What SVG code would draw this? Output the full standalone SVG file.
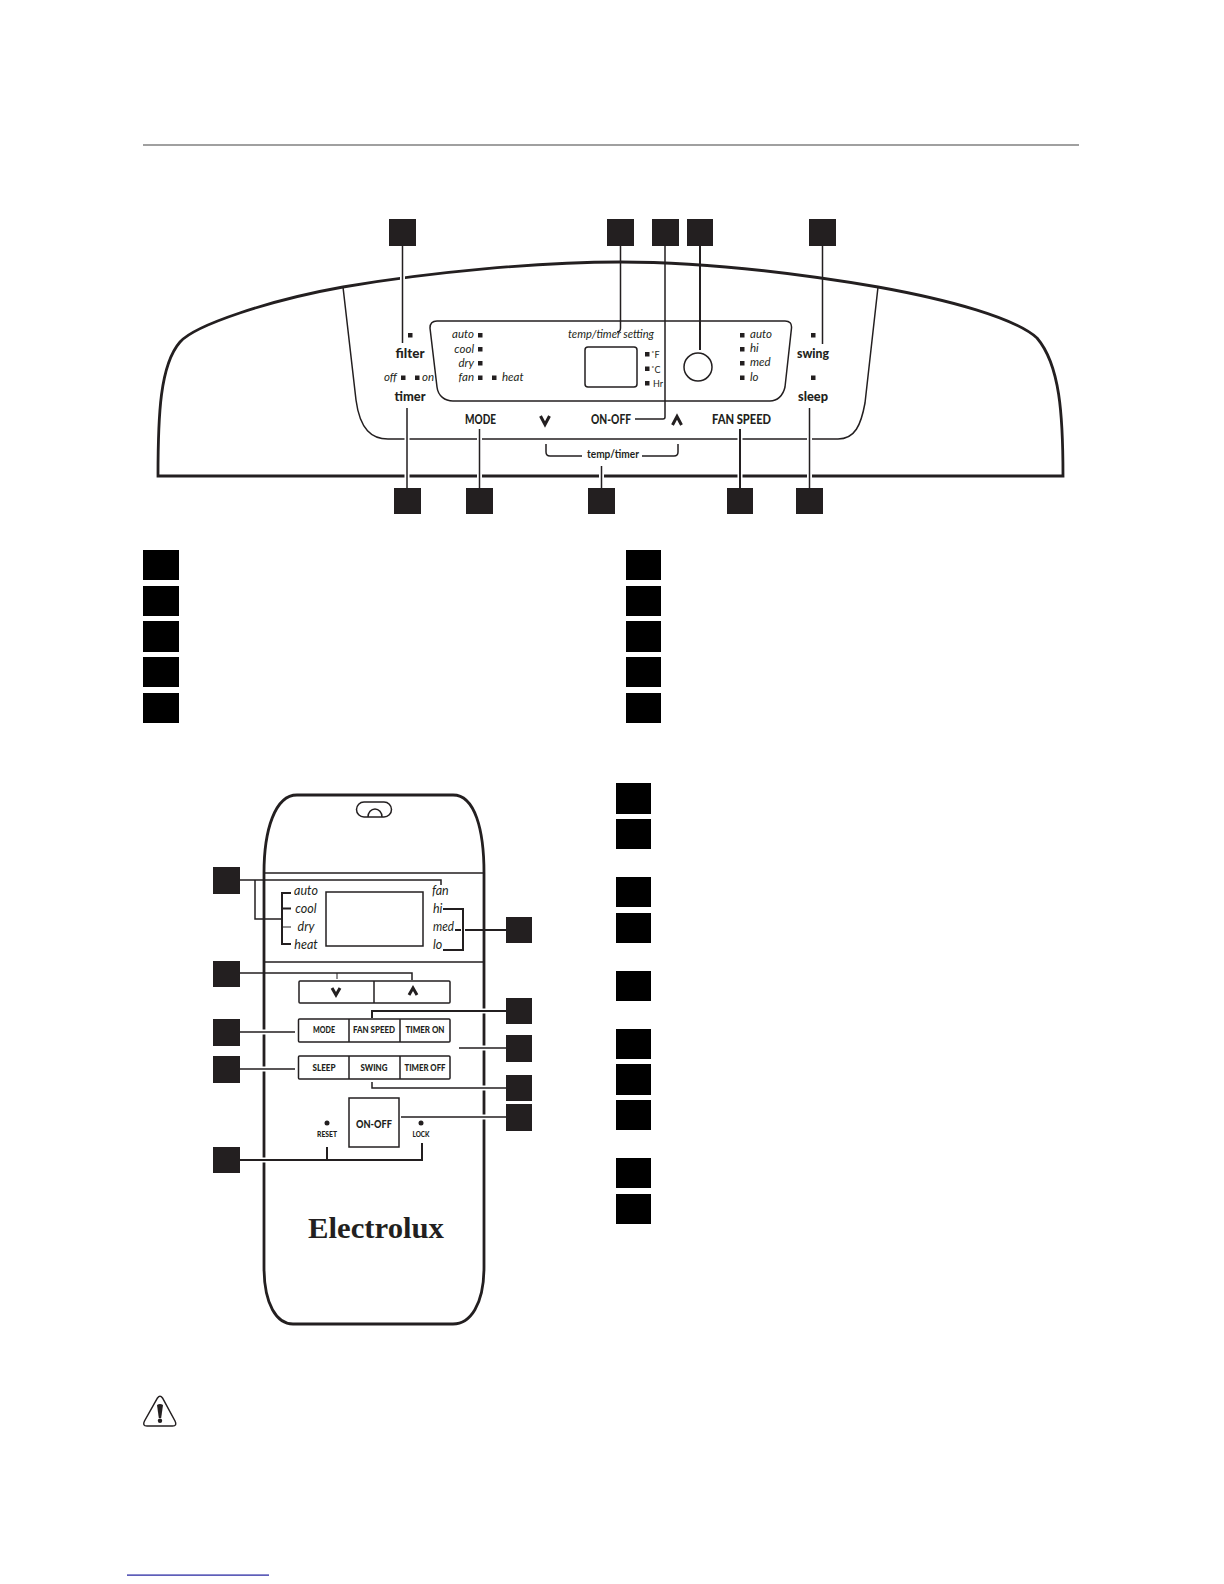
<svg xmlns="http://www.w3.org/2000/svg" width="1224" height="1584" viewBox="0 0 1224 1584">
<style>
.ln{fill:none;stroke:#231f20;stroke-width:1.5}
.th{fill:none;stroke:#231f20;stroke-width:2}
.tk{fill:none;stroke:#231f20;stroke-width:2.8}
.thin{fill:none;stroke:#231f20;stroke-width:1}
.ha{fill:none;stroke:#fff;stroke-width:5}
.sq{fill:#231f20}
.bk{fill:#000}
.led{fill:#231f20}
text{font-family:Lato,"Open Sans","Liberation Sans",sans-serif;fill:#231f20}
.i{font-style:italic;font-size:12.5px}
.p{font-size:11.5px}
.b{font-weight:900;font-size:13px}
.s{font-weight:900;font-size:9.5px}
.m{text-anchor:middle}
.e{text-anchor:end}
.chev{fill:none;stroke:#231f20;stroke-width:3;stroke-linejoin:miter}
</style>
<rect width="1224" height="1584" fill="#fff"/>
<rect id="top-rule" x="143" y="144" width="936" height="2" fill="#a0a0a0"/>

<g id="panel">
<path class="tk" d="M158 476H1063C1063 415 1060 365 1037 338C1015 318 950 300 878 287C790 272 700 262 620 262C540 262 430 272 343 287C270 300 195 325 180 342C160 365 158 415 158 476Z"/>
<path class="ln" d="M343 287L356 400C360 430 372 439 388 439H838C855 439 861 425 865 403L878 287"/>
<path class="ln" d="M437 321H785Q792 321 791.500 328L785 387C783 396 777 401 770 401H453C445 401 438 396 437 387L430 328Q430 321 437 321Z"/>
<rect class="ln" x="585" y="347" width="52" height="40" rx="3" stroke="#555"/>
<circle class="ln" cx="698" cy="367" r="14"/>
<path class="ln" d="M546 444V452Q546 456 550 456H582M642 456H674Q678 456 678 452V444"/>
<path class="chev" d="M540.500 416L545 424.500L549.500 416"/>
<path class="chev" d="M672.500 425L677 416.500L681.500 425"/>
</g>

<g id="panel-labels">
<g class="led">
<rect x="408" y="333" width="4.500" height="4.500"/><rect x="478" y="333" width="4.500" height="4.500"/><rect x="478" y="347" width="4.500" height="4.500"/><rect x="478" y="361" width="4.500" height="4.500"/><rect x="478" y="375.500" width="4.500" height="4.500"/><rect x="492" y="375.500" width="4.500" height="4.500"/>
<rect x="401" y="375.500" width="4.500" height="4.500"/><rect x="415" y="375.500" width="4.500" height="4.500"/>
<rect x="645" y="352" width="4.500" height="4.500"/><rect x="645" y="366.500" width="4.500" height="4.500"/><rect x="645" y="381" width="4.500" height="4.500"/>
<rect x="740" y="333" width="4.500" height="4.500"/><rect x="740" y="347" width="4.500" height="4.500"/><rect x="740" y="361" width="4.500" height="4.500"/><rect x="740" y="375.500" width="4.500" height="4.500"/>
<rect x="811" y="333" width="4.500" height="4.500"/><rect x="811" y="375.500" width="4.500" height="4.500"/>
</g>
<text class="b m" x="410" y="358" textLength="29" lengthAdjust="spacingAndGlyphs">filter</text>
<text class="b m" x="410" y="401" textLength="31" lengthAdjust="spacingAndGlyphs">timer</text>
<text class="b m" x="813" y="358" textLength="32" lengthAdjust="spacingAndGlyphs">swing</text>
<text class="b m" x="813" y="401" textLength="30" lengthAdjust="spacingAndGlyphs">sleep</text>
<text class="b" x="465" y="424" textLength="31" lengthAdjust="spacingAndGlyphs">MODE</text>
<text class="b" x="591" y="424" textLength="40" lengthAdjust="spacingAndGlyphs">ON-OFF</text>
<text class="b" x="712" y="424" textLength="59" lengthAdjust="spacingAndGlyphs">FAN SPEED</text>
<text class="s" x="587" y="458" style="font-size:10.500px;font-weight:700" textLength="52" lengthAdjust="spacingAndGlyphs">temp/timer</text>
<text class="i p e" x="474" y="338">auto</text>
<text class="i p e" x="474" y="353">cool</text>
<text class="i p e" x="474" y="367">dry</text>
<text class="i p e" x="474" y="381">fan</text>
<text class="i p" x="502" y="381">heat</text>
<text class="i p" x="384" y="381">off</text>
<text class="i p" x="422" y="381">on</text>
<text class="i p" x="568" y="338" textLength="86" lengthAdjust="spacingAndGlyphs">temp/timer setting</text>
<text class="i p" x="750" y="338">auto</text>
<text class="i p" x="750" y="352">hi</text>
<text class="i p" x="750" y="366">med</text>
<text class="i p" x="750" y="381">lo</text>
<text x="651" y="358" font-size="9px">˚F</text>
<text x="651" y="373" font-size="9px">˚C</text>
<text x="653" y="387" font-size="9px">Hr</text>
</g>

<g id="remote">
<path class="tk" d="M297 795H453C475 795 484 830 484 873V1267C484 1305 470 1324 453 1324H293C277 1324 264 1305 264 1267V873C264 830 275 795 297 795Z"/>
<path class="ln" d="M364 802H384A7.500 7.500 0 0 1 384 817H364A7.500 7.500 0 0 1 364 802Z"/>
<path class="ln" d="M368 817A7 8 0 0 1 382 817"/>
<path class="ln" d="M264 873H484M264 962H484"/>
<rect class="ln" x="326" y="892" width="97" height="54" stroke="#555"/>
<rect class="ln" x="299" y="981" width="151" height="22" rx="1"/><path class="ln" d="M374 981V1003"/>
<rect class="ln" x="298.500" y="1019" width="151.500" height="23" rx="1"/><path class="ln" d="M349 1019V1042M400 1019V1042"/>
<rect class="ln" x="298.500" y="1056" width="151.500" height="23" rx="1"/><path class="ln" d="M349 1056V1079M400 1056V1079"/>
<rect class="ln" x="349" y="1098" width="50" height="49"/>
<path class="chev" d="M332 988L336 995L340 988"/>
<path class="chev" d="M409 995L413 988L417 995"/>
<circle class="led" cx="327" cy="1123" r="2.500"/><circle class="led" cx="421" cy="1123" r="2.500"/>
</g>

<g id="remote-labels">
<text class="i m" x="306" y="895">auto</text>
<text class="i m" x="306" y="913">cool</text>
<text class="i m" x="306" y="931">dry</text>
<text class="i m" x="306" y="949">heat</text>
<text class="i" x="432" y="895">fan</text>
<text class="i" x="433" y="913">hi</text>
<text class="i" x="433" y="931" textLength="21" lengthAdjust="spacingAndGlyphs">med</text>
<text class="i" x="433" y="949">lo</text>
<text class="s m" x="324" y="1033" textLength="22" lengthAdjust="spacingAndGlyphs">MODE</text>
<text class="s m" x="374" y="1033" textLength="42" lengthAdjust="spacingAndGlyphs">FAN SPEED</text>
<text class="s m" x="425" y="1033" textLength="39" lengthAdjust="spacingAndGlyphs">TIMER ON</text>
<text class="s m" x="324" y="1071" textLength="23" lengthAdjust="spacingAndGlyphs">SLEEP</text>
<text class="s m" x="374" y="1071" textLength="27" lengthAdjust="spacingAndGlyphs">SWING</text>
<text class="s m" x="425" y="1071" textLength="41" lengthAdjust="spacingAndGlyphs">TIMER OFF</text>
<text class="b m" x="374" y="1128" style="font-size:12px" textLength="36" lengthAdjust="spacingAndGlyphs">ON-OFF</text>
<text class="s m" x="327" y="1137" style="font-size:8px" textLength="20" lengthAdjust="spacingAndGlyphs">RESET</text>
<text class="s m" x="421" y="1137" style="font-size:8px" textLength="17" lengthAdjust="spacingAndGlyphs">LOCK</text>
<text x="308" y="1238" textLength="136" lengthAdjust="spacingAndGlyphs" style="font-family:'Liberation Serif',serif;font-weight:700;font-size:29px">Electrolux</text>
</g>

<g id="connectors">
<path class="ha" d="M402.500 270V280M822.500 283V293M407 434V444M407 472V480M479.500 434V444M479.500 472V480M740 434V444M740 472V480M809.500 434V444M809.500 472V480M601.500 472V480"/>
<path class="ln" d="M402.500 246V343M620.500 246V328Q620.500 332 617 332M665 246V417Q665 419 663 419H635M822.500 246V344M407 488V408M479.500 488V429M601.500 488V466M809.500 488V408"/>
<path class="th" d="M700 246V350M740 488V429"/>
<path class="ha" d="M262 1032H267M262 1069H267M262 1160H267M482 1011H487M482 1048H487M482 1088H487M482 1117H487" style="stroke-width:5"/>
<path class="ln" d="M240 880H441V885M255 880V919H281M240 973H412V980M240 1032H295M240 1069H295M506 1048H459M506 1088H372V1082M506 1117H401"/>
<path class="thin" d="M337 973V979M282 927H291"/>
<path class="th" d="M282 919V944H291M291 893H282V919M282 908.500H291M443 909H463V950H443"/>
<path class="th" d="M455 930H461M465 930H506M506 1011H372V1018M240 1160H422V1143M327 1160V1147"/>
</g>

<g id="callouts-panel">
<rect id="c1" class="sq" x="389" y="219" width="27" height="27"/>
<rect id="c2" class="sq" x="607" y="219" width="27" height="27"/>
<rect id="c3" class="sq" x="652" y="219" width="27" height="27"/>
<rect id="c4" class="sq" x="687" y="219" width="26" height="27"/>
<rect id="c5" class="sq" x="809" y="219" width="27" height="27"/>
<rect id="c6" class="sq" x="394" y="488" width="27" height="26"/>
<rect id="c7" class="sq" x="466" y="488" width="27" height="26"/>
<rect id="c8" class="sq" x="588" y="488" width="27" height="26"/>
<rect id="c9" class="sq" x="727" y="488" width="26" height="26"/>
<rect id="c10" class="sq" x="796" y="488" width="27" height="26"/>
</g>

<g id="legend-panel" class="bk">
<rect x="143" y="550" width="36" height="30"/><rect x="143" y="586" width="36" height="30"/><rect x="143" y="621" width="36" height="31"/><rect x="143" y="657" width="36" height="30"/><rect x="143" y="693" width="36" height="30"/>
<rect x="626" y="550" width="35" height="30"/><rect x="626" y="586" width="35" height="30"/><rect x="626" y="621" width="35" height="31"/><rect x="626" y="657" width="35" height="30"/><rect x="626" y="693" width="35" height="30"/>
</g>

<g id="callouts-remote">
<rect class="sq" x="213" y="867" width="27" height="27"/>
<rect class="sq" x="213" y="961" width="27" height="26"/>
<rect class="sq" x="213" y="1019" width="27" height="27"/>
<rect class="sq" x="213" y="1056" width="27" height="27"/>
<rect class="sq" x="213" y="1147" width="27" height="26"/>
<rect class="sq" x="506" y="917" width="26" height="26"/>
<rect class="sq" x="506" y="998" width="26" height="26"/>
<rect class="sq" x="506" y="1035" width="26" height="27"/>
<rect class="sq" x="506" y="1075" width="26" height="26"/>
<rect class="sq" x="506" y="1104" width="26" height="27"/>
</g>

<g id="legend-remote" class="bk">
<rect x="616" y="783" width="35" height="31"/><rect x="616" y="819" width="35" height="30"/><rect x="616" y="877" width="35" height="30"/><rect x="616" y="913" width="35" height="30"/><rect x="616" y="971" width="35" height="30"/>
<rect x="616" y="1029" width="35" height="30"/><rect x="616" y="1064" width="35" height="31"/><rect x="616" y="1100" width="35" height="30"/><rect x="616" y="1158" width="35" height="30"/><rect x="616" y="1194" width="35" height="30"/>
</g>

<g id="warning">
<path class="ln" d="M157.500 1398Q160 1394.500 162.500 1398L175 1421Q177.500 1426 172.500 1426H147Q142 1426 144.500 1421Z"/>
<path class="sq" d="M157 1405Q160 1403 163 1405L161.200 1418H158.800Z"/>
<circle class="sq" cx="160" cy="1420.800" r="2.200"/>
</g>

<rect id="bottom-link" x="127" y="1574.500" width="142" height="1.200" fill="#1a1a9c"/>
</svg>
